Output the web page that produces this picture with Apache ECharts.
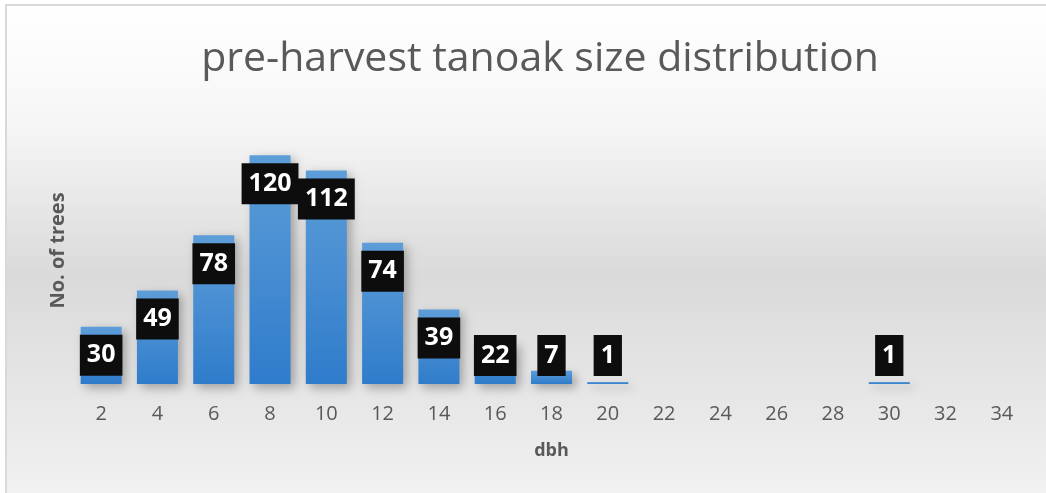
<!DOCTYPE html>
<html>
<head>
<meta charset="utf-8">
<script src="https://cdn.jsdelivr.net/npm/echarts@6/dist/echarts.min.js"></script>
<style>html,body{margin:0;padding:0;background:#fff;}#c{width:1046px;height:493px;}</style>
</head>
<body>
<div id="c"></div>
<script>
const categories = ['2','4','6','8','10','12','14','16','18','20','22','24','26','28','30','32','34'];
const trees = [30,49,78,120,112,74,39,22,7,1,0,0,0,0,1,0,0];
const chartTitle = 'pre-harvest tanoak size distribution';
const xName = 'dbh';
const yName = 'No. of trees';

const chart = echarts.init(document.getElementById('c'));
const data = trees.map(v => ({
  value: v,
  label: v === 0 ? {show:false} : {position: v < 30 ? 'insideBottom' : 'insideTop'}
}));
chart.setOption({
  backgroundColor: '#ffffff',
  animation: false,
  graphic: [{
    type: 'rect', z: -10, silent: true,
    shape: {x: 6, y: 5, width: 1100, height: 600},
    style: {
      stroke: '#d9d9d9', lineWidth: 2,
      fill: new echarts.graphic.LinearGradient(0,0,0,1,[
        {offset:0, color:'#ffffff'},
        {offset:0.2, color:'#f6f6f6'},
        {offset:0.45, color:'#dadada'},
        {offset:0.72, color:'#ebebeb'},
        {offset:1, color:'#ffffff'}
      ])
    }
  }],
  title: {
    text: chartTitle, left: 535, top: 34, textAlign: 'center',
    textStyle: {fontFamily: 'Open Sans', fontWeight: 'normal', fontSize: 41, color: '#595959'}
  },
  grid: {left: 73, right: 16, top: 117, bottom: 109},
  xAxis: {
    type: 'category', data: categories,
    axisLine: {show: false}, axisTick: {show: false},
    axisLabel: {color: '#595959', fontFamily: 'Open Sans', fontSize: 20, margin: 20},
    name: xName, nameLocation: 'middle', nameGap: 58,
    nameTextStyle: {color: '#595959', fontFamily: 'Open Sans', fontWeight: 'bold', fontSize: 18}
  },
  yAxis: {
    type: 'value', min: 0, max: 140,
    axisLine: {show: false}, axisTick: {show: false}, axisLabel: {show: false}, splitLine: {show: false},
    name: yName, nameLocation: 'middle', nameGap: 5,
    nameTextStyle: {color: '#595959', fontFamily: 'Open Sans', fontWeight: 'bold', fontSize: 20}
  },
  series: [{
    type: 'bar', data: data, barWidth: 41,
    itemStyle: {
      color: new echarts.graphic.LinearGradient(0,0,0,1,[
        {offset:0, color:'#5d9dd8'},
        {offset:1, color:'#2f7ccb'}
      ]),
      shadowBlur: 10, shadowColor: 'rgba(0,0,0,0.3)', shadowOffsetX: 4, shadowOffsetY: 4
    },
    label: {
      show: true, distance: 8,
      color: '#ffffff', fontFamily: 'Open Sans', fontWeight: 'bold', fontSize: 25,
      lineHeight: 25, backgroundColor: '#0d0d0d', padding: [8, 7, 8, 7]
    }
  }]
});
</script>
</body>
</html>
